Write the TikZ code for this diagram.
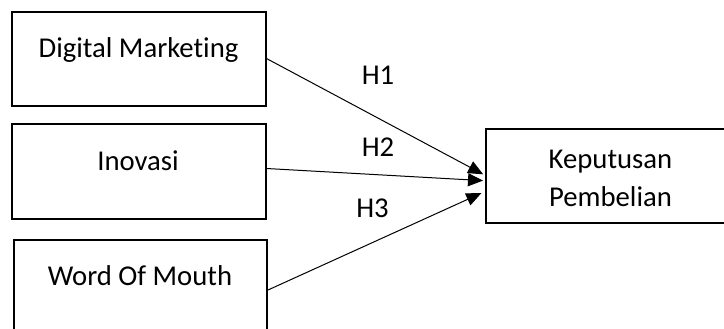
\documentclass[tikz,border=0pt]{standalone}
\usepackage{fontspec}
\setmainfont[Ligatures={NoCommon,NoContextual}, Contextuals=NoAlternate]{Carlito}
\usetikzlibrary{arrows.meta}
\tikzset{
  box/.style={draw, line width=2pt, rectangle, inner sep=0pt},
  lbl/.style={inner sep=0pt, anchor=base, font=\fontsize{28.7}{38.7}\selectfont},
  arr/.style={line width=1pt, -{Triangle[length=15pt,width=13pt]}},
}
\begin{document}
\begin{tikzpicture}[x=1pt,y=-1pt]
\clip (0,0) rectangle (724,329);
\fill[white] (0,0) rectangle (724,329);
\node[box, minimum width=253.5pt, minimum height=94pt] (b1) at (138.75,59.5) {};
\node[box, minimum width=253.5pt, minimum height=95pt] (b2) at (138.75,171.5) {};
\node[box, minimum width=253pt, minimum height=95pt] (b3) at (140.5,287.5) {};
\node[box, minimum width=251pt, minimum height=94pt] (b4) at (611,176) {};
\node[lbl] (t1) at (138.5,57.3) {Digital Marketing};
\node[lbl] (t2) at (138,170.7) {Inovasi};
\node[lbl] (t3) at (140,285) {Word Of Mouth};
\node[lbl] (t4a) at (610.5,168) {Keputusan};
\node[lbl] (t4b) at (610.5,206.7) {Pembelian};
\node[lbl] (h1) at (378,85) {H1};
\node[lbl] (h2) at (378,157) {H2};
\node[lbl] (h3) at (372.5,218) {H3};
\draw[arr, shorten >=1.5pt] ([yshift=1pt]b1.east) -- ([yshift=1pt]b4.west);
\draw[arr, shorten >=1.5pt] ([yshift=3pt]b2.east) -- ([yshift=-4.7pt]b4.west);
\draw[arr, shorten >=3.5pt] ([yshift=-2.5pt]b3.east) -- ([yshift=-15.7pt]b4.west);
\end{tikzpicture}
\end{document}
